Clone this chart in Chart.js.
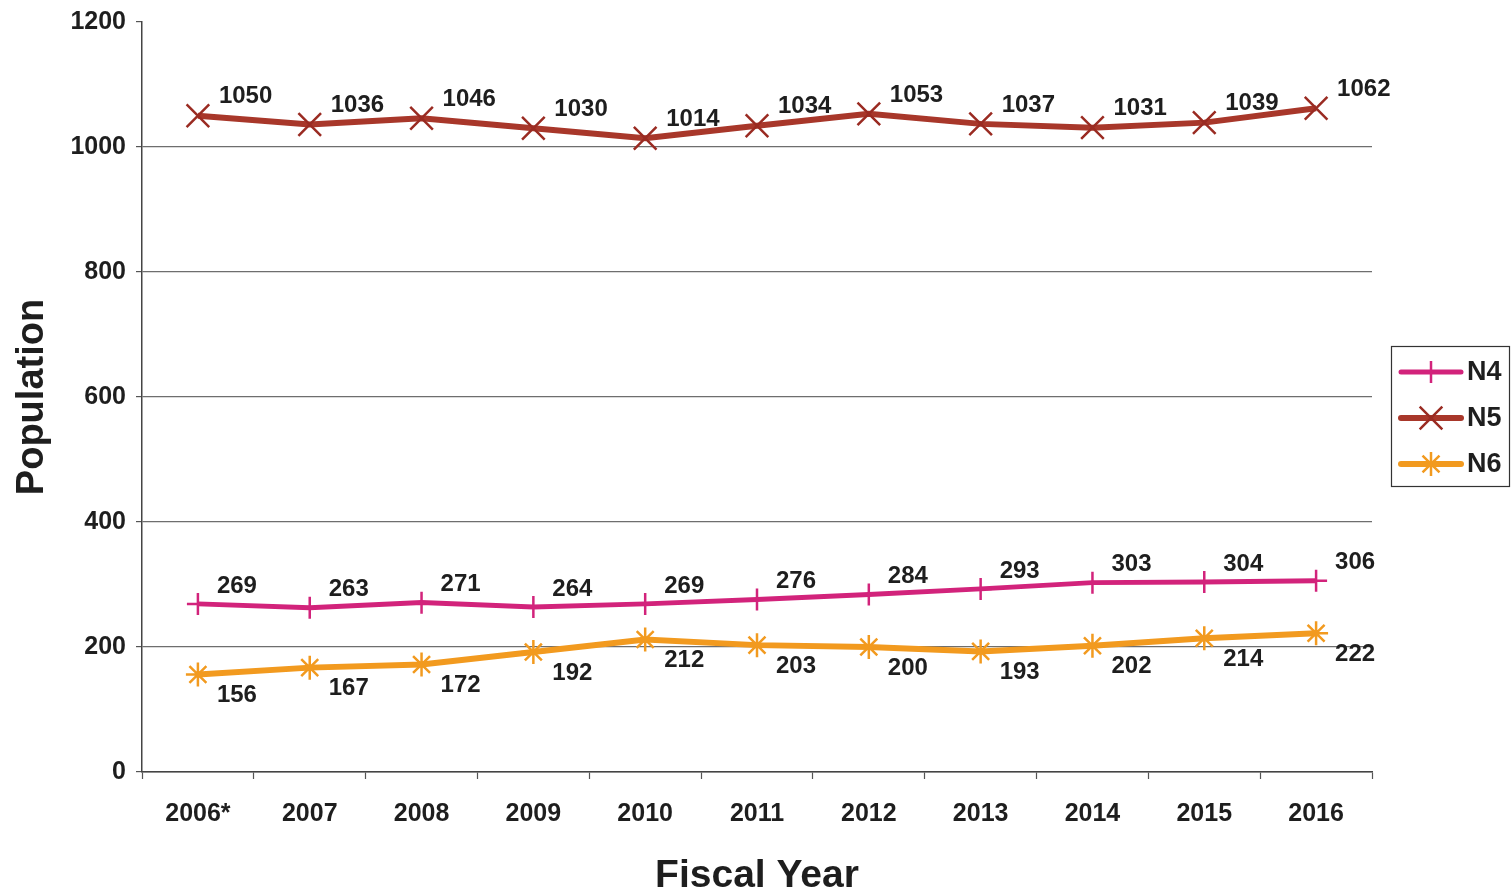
<!doctype html>
<html>
<head>
	<meta charset="UTF-8">
	<title>Population by Fiscal Year</title>
	<script src="https://cdn.jsdelivr.net/npm/chart.js@4/dist/chart.umd.min.js"></script>
	<style>
		html, body { margin: 0; padding: 0; background: #fff; }
		#holder { width: 1512px; height: 892px; }
	</style>
</head>
<body>
<div id="holder"><canvas id="chart"></canvas></div>
<script>
	var years = ['2006*', '2007', '2008', '2009', '2010', '2011', '2012', '2013', '2014', '2015', '2016'];
	var n4 = [269, 263, 271, 264, 269, 276, 284, 293, 303, 304, 306];
	var n5 = [1050, 1036, 1046, 1030, 1014, 1034, 1053, 1037, 1031, 1039, 1062];
	var n6 = [156, 167, 172, 192, 212, 203, 200, 193, 202, 214, 222];

	var FONT = "'Liberation Sans', Arial, sans-serif";
	var INK = '#1e1e1e';

	// value labels next to each point
	var pointLabels = {
		id: 'pointLabels',
		afterDatasetsDraw: function (chart) {
			var ctx = chart.ctx;
			ctx.save();
			ctx.font = 'bold 24px ' + FONT;
			ctx.fillStyle = INK;
			ctx.textAlign = 'left';
			ctx.textBaseline = 'middle';
			chart.data.datasets.forEach(function (ds, i) {
				var meta = chart.getDatasetMeta(i);
				meta.data.forEach(function (pt, j) {
					ctx.fillText(String(ds.data[j]), pt.x + ds.labelDx, pt.y + ds.labelDy);
				});
			});
			ctx.restore();
		}
	};

	// boxed legend on the right, line sample with marker
	var boxLegend = {
		id: 'boxLegend',
		afterDraw: function (chart) {
			var ctx = chart.ctx;
			var x0 = 1391, y0 = 346, w = 118, h = 140;
			ctx.save();
			ctx.strokeStyle = '#333';
			ctx.lineWidth = 1.2;
			ctx.strokeRect(x0 + 0.5, y0 + 0.5, w, h);
			chart.data.datasets.forEach(function (ds, i) {
				var y = 372 + i * 46;
				ctx.strokeStyle = ds.borderColor;
				ctx.lineWidth = ds.borderWidth;
				ctx.lineCap = 'round';
				ctx.beginPath();
				ctx.moveTo(1401, y);
				ctx.lineTo(1461, y);
				ctx.stroke();
				ctx.lineCap = 'butt';
				ctx.strokeStyle = ds.pointBorderColor;
				ctx.fillStyle = ds.pointBorderColor;
				ctx.lineWidth = ds.pointBorderWidth;
				Chart.helpers.drawPoint(ctx, {
					pointStyle: ds.pointStyle,
					radius: ds.pointRadius,
					borderWidth: ds.pointBorderWidth
				}, 1431, y);
				ctx.fillStyle = INK;
				ctx.font = 'bold 27px ' + FONT;
				ctx.textAlign = 'left';
				ctx.textBaseline = 'middle';
				ctx.fillText(ds.label, 1467, y + 1);
			});
			ctx.restore();
		}
	};

	var config = {
		type: 'line',
		data: {
			labels: years,
			datasets: [
				{
					label: 'N4',
					data: n4,
					borderColor: '#d2237b',
					backgroundColor: '#d2237b',
					borderWidth: 5,
					pointStyle: 'cross',
					pointRadius: 11,
					pointBorderColor: '#d2237b',
					pointBorderWidth: 2.5,
					labelDx: 19,
					labelDy: -18
				},
				{
					label: 'N5',
					data: n5,
					borderColor: '#a8372a',
					backgroundColor: '#a8372a',
					borderWidth: 6,
					pointStyle: 'crossRot',
					pointRadius: 16,
					pointBorderColor: '#9a2b22',
					pointBorderWidth: 2.5,
					labelDx: 21,
					labelDy: -19
				},
				{
					label: 'N6',
					data: n6,
					borderColor: '#f29a1f',
					backgroundColor: '#f29a1f',
					borderWidth: 6,
					pointStyle: 'star',
					pointRadius: 12,
					pointBorderColor: '#f29a1f',
					pointBorderWidth: 2.5,
					labelDx: 19,
					labelDy: 21
				}
			]
		},
		options: {
			responsive: true,
			maintainAspectRatio: false,
			animation: false,
			layout: { padding: { top: 22, right: 140, left: 0, bottom: 0 } },
			plugins: {
				legend: { display: false },
				tooltip: { enabled: false }
			},
			scales: {
				x: {
					offset: true,
					grid: {
						offset: true,
						drawOnChartArea: false,
						drawTicks: true,
						tickLength: 7,
						tickColor: '#555',
						tickWidth: 1.2
					},
					border: { color: '#444', width: 1.5 },
					ticks: {
						color: INK,
						font: { family: FONT, size: 25, weight: 'bold' },
						padding: 20,
						maxRotation: 0
					},
					title: {
						display: true,
						text: 'Fiscal Year',
						color: INK,
						font: { family: FONT, size: 39, weight: 'bold' },
						padding: { top: 6, bottom: -8 }
					},
					afterFit: function (s) { s.height = 120; }
				},
				y: {
					min: 0,
					max: 1200,
					ticks: {
						stepSize: 200,
						color: INK,
						font: { family: FONT, size: 25, weight: 'bold' },
						padding: 10,
						callback: function (v) { return String(v); }
					},
					grid: {
						color: function (c) { return c.tick.value === 1200 ? 'rgba(0,0,0,0)' : '#6e6e6e'; },
						tickColor: '#555',
						tickLength: 6,
						lineWidth: 1.2
					},
					border: { color: '#444', width: 1.5 },
					title: {
						display: true,
						text: 'Population',
						color: INK,
						font: { family: FONT, size: 38, weight: 'bold' },
						padding: { top: 10, bottom: 0 }
					},
					afterFit: function (s) {
						s.width = 142;
						s.paddingTop = 0;
						s.paddingBottom = 0;
					}
				}
			}
		},
		plugins: [pointLabels, boxLegend]
	};

	window.myChart = new Chart(document.getElementById('chart').getContext('2d'), config);
</script>
</body>
</html>
